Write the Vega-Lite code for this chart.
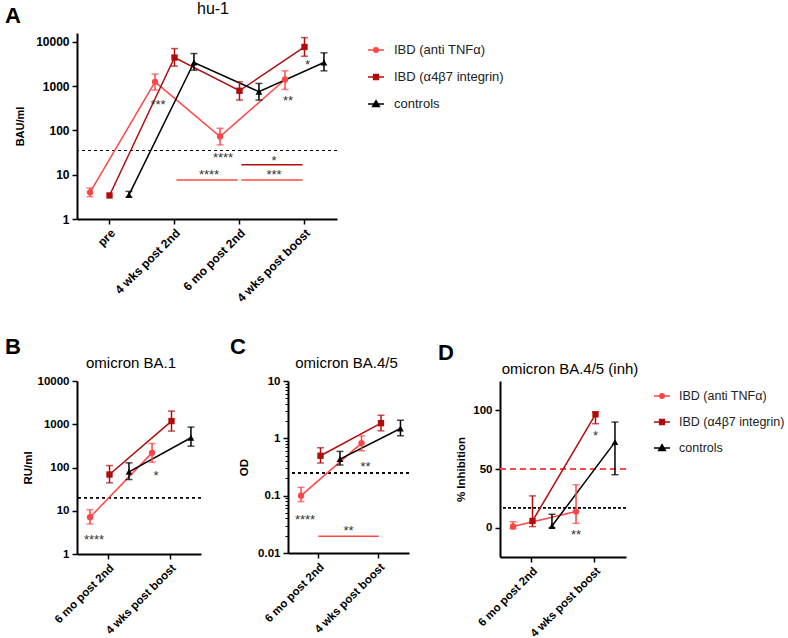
{
  "$schema": "https://vega.github.io/schema/vega-lite/v6.json",
  "padding": {"left": 5, "top": 1, "right": 2, "bottom": 0},
  "config": {
    "font": "Liberation Sans",
    "view": {"stroke": null},
    "axis": {"domainColor": "#000", "domainWidth": 2, "tickColor": "#000", "tickWidth": 1.5, "tickSize": 5, "labelFont": "Liberation Sans", "labelFontWeight": "bold", "labelColor": "#000", "labelFontSize": 11.5, "titleFont": "Liberation Sans", "titleFontSize": 11.5, "titleFontWeight": "bold", "titleColor": "#000", "grid": false, "labelPadding": 3},
    "axisX": {"labelAngle": -45},
    "title": {"font": "Liberation Sans", "color": "#000", "fontWeight": "normal"},
    "legend": {"labelFont": "Liberation Sans"}
  },
  "datasets": {
    "A": [
      {"t": "pre", "g": "IBD (anti TNFα)", "v": 4.0, "lo": 3.2, "hi": 5.0},
      {"t": "4 wks post 2nd", "g": "IBD (anti TNFα)", "v": 1250, "lo": 815, "hi": 1870},
      {"t": "6 mo post 2nd", "g": "IBD (anti TNFα)", "v": 73, "lo": 47, "hi": 112},
      {"t": "4 wks post boost", "g": "IBD (anti TNFα)", "v": 1415, "lo": 843, "hi": 2218},
      {"t": "pre", "g": "IBD (α4β7 integrin)", "v": 3.4, "lo": null, "hi": null},
      {"t": "4 wks post 2nd", "g": "IBD (α4β7 integrin)", "v": 4425, "lo": 2830, "hi": 7060},
      {"t": "6 mo post 2nd", "g": "IBD (α4β7 integrin)", "v": 787, "lo": 485, "hi": 1254},
      {"t": "4 wks post boost", "g": "IBD (α4β7 integrin)", "v": 7690, "lo": 4740, "hi": 12470},
      {"t": "pre", "g": "controls", "v": 3.5, "lo": 3.1, "hi": 4.2},
      {"t": "4 wks post 2nd", "g": "controls", "v": 3415, "lo": 2295, "hi": 5450},
      {"t": "6 mo post 2nd", "g": "controls", "v": 747, "lo": 485, "hi": 1150},
      {"t": "4 wks post boost", "g": "controls", "v": 3415, "lo": 2218, "hi": 5640}
    ],
    "Astars": [
      {"t": "4 wks post 2nd", "g": "IBD (anti TNFα)", "y": 394, "s": "***"},
      {"t": "6 mo post 2nd", "g": "IBD (anti TNFα)", "y": 25.7, "s": "****"},
      {"t": "4 wks post boost", "g": "IBD (anti TNFα)", "y": 485, "s": "**"},
      {"t": "4 wks post boost", "g": "IBD (α4β7 integrin)", "y": 3245, "s": "*"}
    ],
    "Abars": [
      {"t1": "4 wks post 2nd", "t2": "6 mo post 2nd", "g": "IBD (anti TNFα)", "y": 7.55, "ty": 9.95, "s": "****"},
      {"t1": "6 mo post 2nd", "t2": "4 wks post boost", "g": "IBD (anti TNFα)", "y": 7.55, "ty": 9.95, "s": "***"},
      {"t1": "6 mo post 2nd", "t2": "4 wks post boost", "g": "IBD (α4β7 integrin)", "y": 16.7, "ty": 20.9, "s": "*"}
    ],
    "B": [
      {"t": "6 mo post 2nd", "g": "IBD (anti TNFα)", "v": 7.07, "lo": 4.95, "hi": 10.6},
      {"t": "4 wks post boost", "g": "IBD (anti TNFα)", "v": 218, "lo": 133, "hi": 360},
      {"t": "6 mo post 2nd", "g": "IBD (α4β7 integrin)", "v": 68.8, "lo": 44.2, "hi": 111},
      {"t": "4 wks post boost", "g": "IBD (α4β7 integrin)", "v": 1184, "lo": 695, "hi": 2018},
      {"t": "6 mo post 2nd", "g": "controls", "v": 79.4, "lo": 52.7, "hi": 128},
      {"t": "4 wks post boost", "g": "controls", "v": 487, "lo": 312, "hi": 860}
    ],
    "Bstars": [
      {"t": "6 mo post 2nd", "g": "IBD (anti TNFα)", "y": 2.2, "s": "****"},
      {"t": "4 wks post boost", "g": "IBD (anti TNFα)", "y": 66.4, "s": "*"}
    ],
    "C": [
      {"t": "6 mo post 2nd", "g": "IBD (anti TNFα)", "v": 0.1, "lo": 0.079, "hi": 0.14},
      {"t": "4 wks post boost", "g": "IBD (anti TNFα)", "v": 0.826, "lo": 0.607, "hi": 1.107},
      {"t": "6 mo post 2nd", "g": "IBD (α4β7 integrin)", "v": 0.497, "lo": 0.371, "hi": 0.685},
      {"t": "4 wks post boost", "g": "IBD (α4β7 integrin)", "v": 1.837, "lo": 1.352, "hi": 2.53},
      {"t": "6 mo post 2nd", "g": "controls", "v": 0.435, "lo": 0.342, "hi": 0.591},
      {"t": "4 wks post boost", "g": "controls", "v": 1.484, "lo": 1.107, "hi": 2.07}
    ],
    "Cstars": [
      {"t": "6 mo post 2nd", "g": "IBD (anti TNFα)", "y": 0.0395, "s": "****"},
      {"t": "4 wks post boost", "g": "IBD (anti TNFα)", "y": 0.333, "s": "**"}
    ],
    "Cbars": [
      {"t1": "6 mo post 2nd", "t2": "4 wks post boost", "g": "IBD (anti TNFα)", "y": 0.0195, "ty": 0.0248, "s": "**"}
    ],
    "D": [
      {"t": "6 mo post 2nd", "g": "IBD (anti TNFα)", "v": 1, "lo": -1, "hi": 5},
      {"t": "4 wks post boost", "g": "IBD (anti TNFα)", "v": 13.7, "lo": 3.7, "hi": 36.6},
      {"t": "6 mo post 2nd", "g": "IBD (α4β7 integrin)", "v": 5.7, "lo": 0.9, "hi": 27.1},
      {"t": "4 wks post boost", "g": "IBD (α4β7 integrin)", "v": 96.6, "lo": 88.6, "hi": 98.6},
      {"t": "6 mo post 2nd", "g": "controls", "v": 1.4, "lo": 0, "hi": 11.4},
      {"t": "4 wks post boost", "g": "controls", "v": 72.9, "lo": 45.1, "hi": 90}
    ],
    "Dstars": [
      {"t": "4 wks post boost", "g": "IBD (α4β7 integrin)", "y": 79.4, "s": "*"},
      {"t": "4 wks post boost", "g": "IBD (anti TNFα)", "y": -5.1, "s": "**"}
    ]
  },
  "resolve": {"scale": {"color": "independent"}, "legend": {"color": "independent"}},
  "spacing": 32,
  "vconcat": [
    {
      "title": {"text": "A", "anchor": "start", "frame": "group", "fontSize": 22, "fontWeight": "bold", "dx": -72, "dy": 31},
      "resolve": {"scale": {"color": "independent"}, "legend": {"color": "independent"}},
      "hconcat": [
        {
          "width": 260, "height": 186,
          "title": {"text": "hu-1", "fontSize": 16, "offset": 16, "dx": 6},
          "data": {"name": "A"},
          "layer": [
            {"mark": {"type": "rule", "strokeDash": [3, 3], "color": "#000", "strokeWidth": 1}, "encoding": {"y": {"datum": 35.2, "type": "quantitative"}}},
            {"mark": {"type": "line", "strokeWidth": 1.5},
             "encoding": {
               "x": {"field": "t", "type": "nominal", "title": null, "scale": {"type": "band", "domain": ["pre", "4 wks post 2nd", "6 mo post 2nd", "4 wks post boost"], "paddingInner": 0, "paddingOuter": 0}, "axis": {"labelFontSize": 12}},
               "xOffset": {"field": "g", "type": "nominal", "scale": {"domain": ["IBD (anti TNFα)", "IBD (α4β7 integrin)", "controls"], "paddingInner": 0, "paddingOuter": 0.17}},
               "y": {"field": "v", "type": "quantitative", "title": "BAU/ml", "scale": {"type": "log", "domain": [1, 15849], "nice": false}, "axis": {"values": [1, 10, 100, 1000, 10000], "format": "d", "labelFontSize": 12, "titleFontSize": 11, "titlePadding": 10}},
               "color": {"field": "g", "type": "nominal", "scale": {"domain": ["IBD (anti TNFα)", "IBD (α4β7 integrin)", "controls"], "range": ["#ff4646", "#b00c0c", "#000000"]},
                 "legend": {"title": null, "orient": "none", "legendX": 290, "legendY": 8, "padding": 0, "symbolSize": 256, "symbolStrokeWidth": 1.5, "labelFontSize": 13, "labelColor": "#222", "rowPadding": 11, "labelOffset": 9,
                   "encode": {"symbols": {"update": {
                     "shape": {"signal": "datum.value === 'controls' ? 'M-1,0H1M0,-0.42L0.42,0.3H-0.42Z' : datum.value === 'IBD (anti TNFα)' ? 'M-1,0H1M-0.28,0A0.28,0.28 0 1,1 0.28,0A0.28,0.28 0 1,1 -0.28,0Z' : 'M-1,0H1M-0.3,-0.3H0.3V0.3H-0.3Z'"},
                     "fill": {"signal": "datum.value === 'controls' ? '#000000' : datum.value === 'IBD (anti TNFα)' ? '#ff4646' : '#b00c0c'"},
                     "stroke": {"signal": "datum.value === 'controls' ? '#000000' : datum.value === 'IBD (anti TNFα)' ? '#ff4646' : '#b00c0c'"},
                     "opacity": {"value": 1}, "fillOpacity": {"value": 1}}}}}}
             }},
            {"mark": {"type": "rule", "strokeWidth": 1.5},
             "encoding": {"x": {"field": "t", "type": "nominal"}, "xOffset": {"field": "g", "type": "nominal"}, "y": {"field": "lo", "type": "quantitative"}, "y2": {"field": "hi"}, "color": {"field": "g", "type": "nominal"}}},
            {"mark": {"type": "tick", "thickness": 1.5, "size": 7},
             "encoding": {"x": {"field": "t", "type": "nominal"}, "xOffset": {"field": "g", "type": "nominal"}, "y": {"field": "lo", "type": "quantitative"}, "color": {"field": "g", "type": "nominal"}}},
            {"mark": {"type": "tick", "thickness": 1.5, "size": 7},
             "encoding": {"x": {"field": "t", "type": "nominal"}, "xOffset": {"field": "g", "type": "nominal"}, "y": {"field": "hi", "type": "quantitative"}, "color": {"field": "g", "type": "nominal"}}},
            {"transform": [{"filter": "datum.g === 'IBD (anti TNFα)'"}], "mark": {"type": "point", "shape": "circle", "filled": true, "size": 40, "opacity": 1, "color": "#ff4646"},
             "encoding": {"x": {"field": "t", "type": "nominal"}, "xOffset": {"field": "g", "type": "nominal"}, "y": {"field": "v", "type": "quantitative"}}},
            {"transform": [{"filter": "datum.g === 'IBD (α4β7 integrin)'"}], "mark": {"type": "point", "shape": "square", "filled": true, "size": 40, "opacity": 1, "color": "#b00c0c"},
             "encoding": {"x": {"field": "t", "type": "nominal"}, "xOffset": {"field": "g", "type": "nominal"}, "y": {"field": "v", "type": "quantitative"}}},
            {"transform": [{"filter": "datum.g === 'controls'"}], "mark": {"type": "point", "shape": "triangle-up", "filled": true, "size": 45, "opacity": 1, "color": "#000000"},
             "encoding": {"x": {"field": "t", "type": "nominal"}, "xOffset": {"field": "g", "type": "nominal"}, "y": {"field": "v", "type": "quantitative"}}},
            {"data": {"name": "Astars"}, "mark": {"type": "text", "fontSize": 13, "color": "#333", "baseline": "middle", "dy": 1, "dx": 3},
             "encoding": {"x": {"field": "t", "type": "nominal"}, "xOffset": {"field": "g", "type": "nominal"}, "y": {"field": "y", "type": "quantitative"}, "text": {"field": "s"}}},
            {"data": {"name": "Abars"}, "mark": {"type": "rule", "strokeWidth": 1.5},
             "encoding": {"x": {"field": "t1", "type": "nominal", "bandPosition": 0.53}, "x2": {"field": "t2", "bandPosition": 0.47}, "y": {"field": "y", "type": "quantitative"}, "color": {"field": "g", "type": "nominal"}}},
            {"data": {"name": "Abars"}, "mark": {"type": "text", "fontSize": 13, "color": "#333", "baseline": "middle", "dy": 0, "dx": 2},
             "encoding": {"x": {"field": "t1", "type": "nominal", "bandPosition": 1}, "y": {"field": "ty", "type": "quantitative"}, "text": {"field": "s"}}}
          ]
        }
      ]
    },
    {
      "spacing": 28,
      "resolve": {"scale": {"color": "independent"}, "legend": {"color": "independent"}},
      "hconcat": [
        {
          "title": {"text": "B", "anchor": "start", "frame": "group", "fontSize": 22, "fontWeight": "bold", "dx": -72, "dy": 7},
          "hconcat": [
            {
              "width": 124, "height": 173,
              "title": {"text": "omicron BA.1", "fontSize": 15, "offset": 4, "dx": -8},
              "data": {"name": "B"},
              "layer": [
                {"mark": {"type": "rule", "strokeDash": [3, 3], "color": "#000", "strokeWidth": 1}, "encoding": {"y": {"datum": 20, "type": "quantitative"}}},
                {"mark": {"type": "line", "strokeWidth": 1.5},
                 "encoding": {
                   "x": {"field": "t", "type": "nominal", "title": null, "scale": {"type": "band", "domain": ["6 mo post 2nd", "4 wks post boost"], "paddingInner": 0, "paddingOuter": 0}},
                   "xOffset": {"field": "g", "type": "nominal", "scale": {"domain": ["IBD (anti TNFα)", "IBD (α4β7 integrin)", "controls"], "paddingInner": 0, "paddingOuter": 0.27}},
                   "y": {"field": "v", "type": "quantitative", "title": "RU/ml", "scale": {"type": "log", "domain": [1, 10000], "nice": false}, "axis": {"values": [1, 10, 100, 1000, 10000], "format": "d", "titlePadding": 4}},
                   "color": {"field": "g", "type": "nominal", "scale": {"domain": ["IBD (anti TNFα)", "IBD (α4β7 integrin)", "controls"], "range": ["#ff4646", "#b00c0c", "#000000"]}, "legend": null}
                 }},
                {"mark": {"type": "rule", "strokeWidth": 1.5},
                 "encoding": {"x": {"field": "t", "type": "nominal"}, "xOffset": {"field": "g", "type": "nominal"}, "y": {"field": "lo", "type": "quantitative"}, "y2": {"field": "hi"}, "color": {"field": "g", "type": "nominal"}}},
                {"mark": {"type": "tick", "thickness": 1.5, "size": 7},
                 "encoding": {"x": {"field": "t", "type": "nominal"}, "xOffset": {"field": "g", "type": "nominal"}, "y": {"field": "lo", "type": "quantitative"}, "color": {"field": "g", "type": "nominal"}}},
                {"mark": {"type": "tick", "thickness": 1.5, "size": 7},
                 "encoding": {"x": {"field": "t", "type": "nominal"}, "xOffset": {"field": "g", "type": "nominal"}, "y": {"field": "hi", "type": "quantitative"}, "color": {"field": "g", "type": "nominal"}}},
                {"transform": [{"filter": "datum.g === 'IBD (anti TNFα)'"}], "mark": {"type": "point", "shape": "circle", "filled": true, "size": 40, "opacity": 1, "color": "#ff4646"},
                 "encoding": {"x": {"field": "t", "type": "nominal"}, "xOffset": {"field": "g", "type": "nominal"}, "y": {"field": "v", "type": "quantitative"}}},
                {"transform": [{"filter": "datum.g === 'IBD (α4β7 integrin)'"}], "mark": {"type": "point", "shape": "square", "filled": true, "size": 40, "opacity": 1, "color": "#b00c0c"},
                 "encoding": {"x": {"field": "t", "type": "nominal"}, "xOffset": {"field": "g", "type": "nominal"}, "y": {"field": "v", "type": "quantitative"}}},
                {"transform": [{"filter": "datum.g === 'controls'"}], "mark": {"type": "point", "shape": "triangle-up", "filled": true, "size": 45, "opacity": 1, "color": "#000000"},
                 "encoding": {"x": {"field": "t", "type": "nominal"}, "xOffset": {"field": "g", "type": "nominal"}, "y": {"field": "v", "type": "quantitative"}}},
                {"data": {"name": "Bstars"}, "mark": {"type": "text", "fontSize": 13, "color": "#333", "baseline": "middle", "dy": 1, "dx": 4},
                 "encoding": {"x": {"field": "t", "type": "nominal"}, "xOffset": {"field": "g", "type": "nominal"}, "y": {"field": "y", "type": "quantitative"}, "text": {"field": "s"}}}
              ]
            }
          ]
        },
        {
          "title": {"text": "C", "anchor": "start", "frame": "group", "fontSize": 22, "fontWeight": "bold", "dx": -58, "dy": 7},
          "hconcat": [
            {
              "width": 121, "height": 172,
              "title": {"text": "omicron BA.4/5", "fontSize": 15, "offset": 4, "dx": -2},
              "data": {"name": "C"},
              "resolve": {"axis": {"y": "independent"}},
              "layer": [
                {"mark": {"type": "rule", "strokeDash": [3, 3], "color": "#000", "strokeWidth": 1}, "encoding": {"y": {"datum": 0.25, "type": "quantitative", "axis": null}}},
                {"mark": {"type": "line", "strokeWidth": 1.5},
                 "encoding": {
                   "x": {"field": "t", "type": "nominal", "title": null, "scale": {"type": "band", "domain": ["6 mo post 2nd", "4 wks post boost"], "paddingInner": 0, "paddingOuter": 0}},
                   "xOffset": {"field": "g", "type": "nominal", "scale": {"domain": ["IBD (anti TNFα)", "IBD (α4β7 integrin)", "controls"], "paddingInner": 0, "paddingOuter": 0.28}},
                   "y": {"field": "v", "type": "quantitative", "title": "OD", "scale": {"type": "log", "domain": [0.01, 10], "nice": false}, "axis": {"orient": "left", "values": [0.01, 0.1, 1, 10], "format": "~g", "titlePadding": 8}},
                   "color": {"field": "g", "type": "nominal", "scale": {"domain": ["IBD (anti TNFα)", "IBD (α4β7 integrin)", "controls"], "range": ["#ff4646", "#b00c0c", "#000000"]}, "legend": null}
                 }},
                {"mark": {"type": "rule", "strokeWidth": 1.5},
                 "encoding": {"x": {"field": "t", "type": "nominal"}, "xOffset": {"field": "g", "type": "nominal"}, "y": {"field": "lo", "type": "quantitative", "axis": {"orient": "left", "values": [0.02, 0.03, 0.04, 0.05, 0.06, 0.07, 0.08, 0.09, 0.2, 0.3, 0.4, 0.5, 0.6, 0.7, 0.8, 0.9, 2, 3, 4, 5, 6, 7, 8, 9], "labels": false, "domain": false, "tickSize": 3, "tickWidth": 1, "title": null}}, "y2": {"field": "hi"}, "color": {"field": "g", "type": "nominal"}}},
                {"mark": {"type": "tick", "thickness": 1.5, "size": 7},
                 "encoding": {"x": {"field": "t", "type": "nominal"}, "xOffset": {"field": "g", "type": "nominal"}, "y": {"field": "lo", "type": "quantitative", "axis": null}, "color": {"field": "g", "type": "nominal"}}},
                {"mark": {"type": "tick", "thickness": 1.5, "size": 7},
                 "encoding": {"x": {"field": "t", "type": "nominal"}, "xOffset": {"field": "g", "type": "nominal"}, "y": {"field": "hi", "type": "quantitative", "axis": null}, "color": {"field": "g", "type": "nominal"}}},
                {"transform": [{"filter": "datum.g === 'IBD (anti TNFα)'"}], "mark": {"type": "point", "shape": "circle", "filled": true, "size": 40, "opacity": 1, "color": "#ff4646"},
                 "encoding": {"x": {"field": "t", "type": "nominal"}, "xOffset": {"field": "g", "type": "nominal"}, "y": {"field": "v", "type": "quantitative", "axis": null}}},
                {"transform": [{"filter": "datum.g === 'IBD (α4β7 integrin)'"}], "mark": {"type": "point", "shape": "square", "filled": true, "size": 40, "opacity": 1, "color": "#b00c0c"},
                 "encoding": {"x": {"field": "t", "type": "nominal"}, "xOffset": {"field": "g", "type": "nominal"}, "y": {"field": "v", "type": "quantitative", "axis": null}}},
                {"transform": [{"filter": "datum.g === 'controls'"}], "mark": {"type": "point", "shape": "triangle-up", "filled": true, "size": 45, "opacity": 1, "color": "#000000"},
                 "encoding": {"x": {"field": "t", "type": "nominal"}, "xOffset": {"field": "g", "type": "nominal"}, "y": {"field": "v", "type": "quantitative", "axis": null}}},
                {"data": {"name": "Cstars"}, "mark": {"type": "text", "fontSize": 13, "color": "#333", "baseline": "middle", "dy": 1, "dx": 4},
                 "encoding": {"x": {"field": "t", "type": "nominal"}, "xOffset": {"field": "g", "type": "nominal"}, "y": {"field": "y", "type": "quantitative", "axis": null}, "text": {"field": "s"}}},
                {"data": {"name": "Cbars"}, "mark": {"type": "rule", "strokeWidth": 1.5},
                 "encoding": {"x": {"field": "t1", "type": "nominal", "bandPosition": 0.5}, "x2": {"field": "t2", "bandPosition": 0.5}, "y": {"field": "y", "type": "quantitative", "axis": null}, "color": {"field": "g", "type": "nominal"}}},
                {"data": {"name": "Cbars"}, "mark": {"type": "text", "fontSize": 13, "color": "#333", "baseline": "middle", "dy": 1},
                 "encoding": {"x": {"field": "t1", "type": "nominal", "bandPosition": 1}, "y": {"field": "ty", "type": "quantitative", "axis": null}, "text": {"field": "s"}}}
              ]
            }
          ]
        },
        {
          "title": {"text": "D", "anchor": "start", "frame": "group", "fontSize": 22, "fontWeight": "bold", "dx": -62, "dy": 7},
          "hconcat": [
            {
              "width": 126, "height": 176,
              "title": {"text": "omicron BA.4/5 (inh)", "fontSize": 15, "offset": 4, "dx": 7},
              "data": {"name": "D"},
              "layer": [
                {"mark": {"type": "rule", "strokeDash": [3, 2], "color": "#000", "strokeWidth": 1}, "encoding": {"y": {"datum": 17, "type": "quantitative"}}},
                {"mark": {"type": "rule", "strokeDash": [6, 4], "color": "#ff4646", "strokeWidth": 1.2}, "encoding": {"y": {"datum": 50, "type": "quantitative"}}},
                {"mark": {"type": "line", "strokeWidth": 1.5},
                 "encoding": {
                   "x": {"field": "t", "type": "nominal", "title": null, "scale": {"type": "band", "domain": ["6 mo post 2nd", "4 wks post boost"], "paddingInner": 0, "paddingOuter": 0}},
                   "xOffset": {"field": "g", "type": "nominal", "scale": {"domain": ["IBD (anti TNFα)", "IBD (α4β7 integrin)", "controls"], "paddingInner": 0, "paddingOuter": 0.25}},
                   "y": {"field": "v", "type": "quantitative", "title": "% Inhibition", "scale": {"domain": [-25, 125], "nice": false, "zero": false}, "axis": {"values": [0, 50, 100], "titlePadding": 6}},
                   "color": {"field": "g", "type": "nominal", "scale": {"domain": ["IBD (anti TNFα)", "IBD (α4β7 integrin)", "controls"], "range": ["#ff4646", "#b00c0c", "#000000"]},
                     "legend": {"title": null, "orient": "right", "offset": 8, "padding": 6, "symbolSize": 256, "symbolStrokeWidth": 1.5, "labelFontSize": 12.5, "labelColor": "#222", "rowPadding": 10, "labelOffset": 8,
                       "encode": {"symbols": {"update": {
                         "shape": {"signal": "datum.value === 'controls' ? 'M-1,0H1M0,-0.42L0.42,0.3H-0.42Z' : datum.value === 'IBD (anti TNFα)' ? 'M-1,0H1M-0.28,0A0.28,0.28 0 1,1 0.28,0A0.28,0.28 0 1,1 -0.28,0Z' : 'M-1,0H1M-0.3,-0.3H0.3V0.3H-0.3Z'"},
                         "fill": {"signal": "datum.value === 'controls' ? '#000000' : datum.value === 'IBD (anti TNFα)' ? '#ff4646' : '#b00c0c'"},
                         "stroke": {"signal": "datum.value === 'controls' ? '#000000' : datum.value === 'IBD (anti TNFα)' ? '#ff4646' : '#b00c0c'"},
                         "opacity": {"value": 1}, "fillOpacity": {"value": 1}}}}}}
                 }},
                {"mark": {"type": "rule", "strokeWidth": 1.5},
                 "encoding": {"x": {"field": "t", "type": "nominal"}, "xOffset": {"field": "g", "type": "nominal"}, "y": {"field": "lo", "type": "quantitative"}, "y2": {"field": "hi"}, "color": {"field": "g", "type": "nominal"}}},
                {"mark": {"type": "tick", "thickness": 1.5, "size": 7},
                 "encoding": {"x": {"field": "t", "type": "nominal"}, "xOffset": {"field": "g", "type": "nominal"}, "y": {"field": "lo", "type": "quantitative"}, "color": {"field": "g", "type": "nominal"}}},
                {"mark": {"type": "tick", "thickness": 1.5, "size": 7},
                 "encoding": {"x": {"field": "t", "type": "nominal"}, "xOffset": {"field": "g", "type": "nominal"}, "y": {"field": "hi", "type": "quantitative"}, "color": {"field": "g", "type": "nominal"}}},
                {"transform": [{"filter": "datum.g === 'IBD (anti TNFα)'"}], "mark": {"type": "point", "shape": "circle", "filled": true, "size": 40, "opacity": 1, "color": "#ff4646"},
                 "encoding": {"x": {"field": "t", "type": "nominal"}, "xOffset": {"field": "g", "type": "nominal"}, "y": {"field": "v", "type": "quantitative"}}},
                {"transform": [{"filter": "datum.g === 'IBD (α4β7 integrin)'"}], "mark": {"type": "point", "shape": "square", "filled": true, "size": 40, "opacity": 1, "color": "#b00c0c"},
                 "encoding": {"x": {"field": "t", "type": "nominal"}, "xOffset": {"field": "g", "type": "nominal"}, "y": {"field": "v", "type": "quantitative"}}},
                {"transform": [{"filter": "datum.g === 'controls'"}], "mark": {"type": "point", "shape": "triangle-up", "filled": true, "size": 45, "opacity": 1, "color": "#000000"},
                 "encoding": {"x": {"field": "t", "type": "nominal"}, "xOffset": {"field": "g", "type": "nominal"}, "y": {"field": "v", "type": "quantitative"}}},
                {"data": {"name": "Dstars"}, "mark": {"type": "text", "fontSize": 13, "color": "#333", "baseline": "middle", "dy": 1},
                 "encoding": {"x": {"field": "t", "type": "nominal"}, "xOffset": {"field": "g", "type": "nominal"}, "y": {"field": "y", "type": "quantitative"}, "text": {"field": "s"}}}
              ]
            }
          ]
        }
      ]
    }
  ]
}
